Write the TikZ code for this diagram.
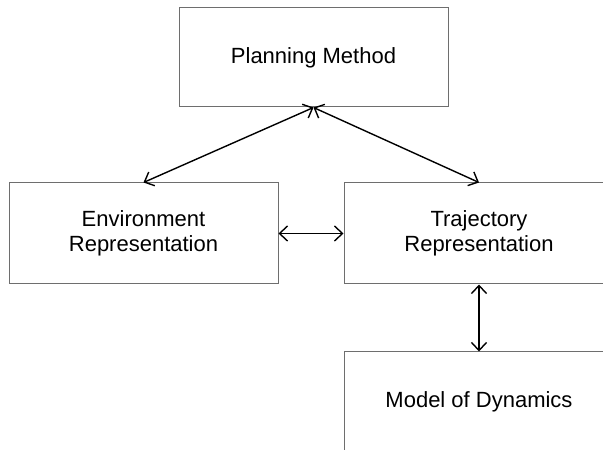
\documentclass[tikz,border=0pt]{standalone}
\usepackage{fontspec}
\setmainfont{Liberation Sans}
\usetikzlibrary{arrows.meta}
\definecolor{boxgray}{RGB}{110,110,110}
\begin{document}
\begin{tikzpicture}[x=1pt,y=1pt,
  blk/.style={draw=boxgray, line width=1pt, rectangle, inner sep=0pt, align=center,
    font=\fontsize{22}{25}\selectfont, text=black},
  link/.style={line width=1.4pt, black, {Straight Barb[length=8pt,width=15pt]}-{Straight Barb[length=8pt,width=15pt]}}]
\useasboundingbox (0,0) rectangle (603,450);
\clip (0,0) rectangle (603,450);
\fill[white] (0,0) rectangle (603,450);
\node[blk, minimum width=269pt, minimum height=99pt] (plan) at (313.5,392.5) {Planning Method};
\node[blk, minimum width=269pt, minimum height=101pt] (env) at (143.5,216.5) {Environment\\Representation};
\node[blk, minimum width=270pt, minimum height=101pt] (traj) at (479,216.5) {Trajectory\\Representation};
\node[blk, minimum width=270pt, minimum height=100pt] (model) at (479,48) {Model of Dynamics};
\draw[link] (plan.south) -- (env.north);
\draw[link] (plan.south) -- (traj.north);
\draw[link] (env.east) -- (traj.west);
\draw[link] (traj.south) -- (model.north);
\end{tikzpicture}
\end{document}
